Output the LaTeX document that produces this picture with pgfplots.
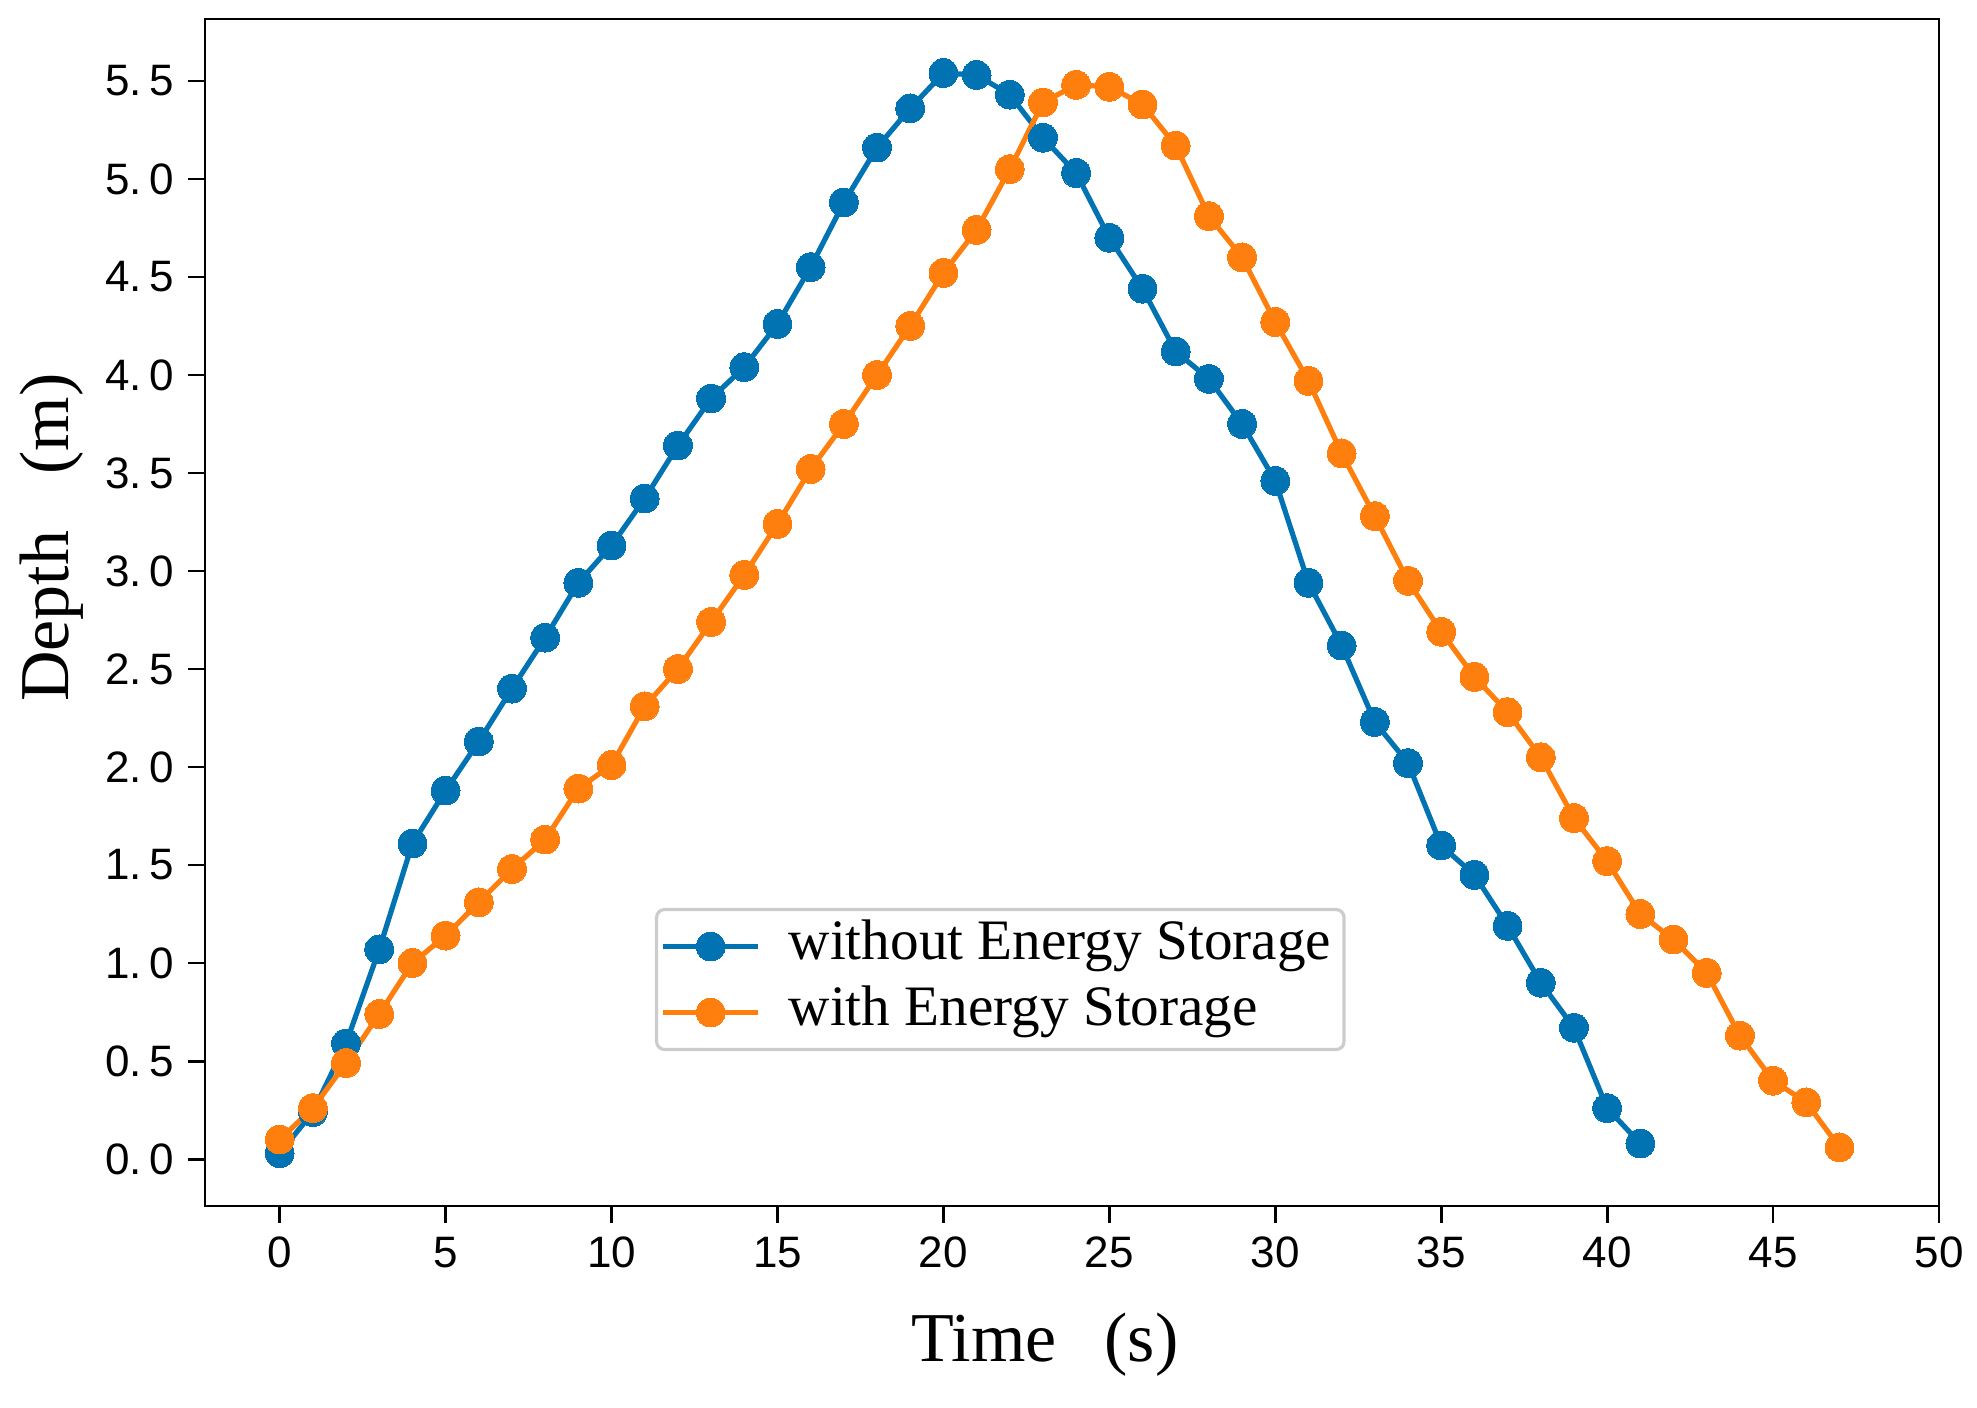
\documentclass[border=0pt]{standalone}
\usepackage{pgfplots}
\pgfplotsset{compat=1.18}
\usepackage{pgfplotstable}
\usepackage{fontspec}
\setmainfont{Liberation Serif}
\newfontfamily\ticksf{Liberation Sans}
\definecolor{cblue}{RGB}{1,115,178}
\definecolor{corange}{RGB}{255,127,14}
\definecolor{lgray}{RGB}{204,204,204}

\pgfplotstableread{
x y
0 0.03
1 0.24
2 0.59
3 1.07
4 1.61
5 1.88
6 2.13
7 2.40
8 2.66
9 2.94
10 3.13
11 3.37
12 3.64
13 3.88
14 4.04
15 4.26
16 4.55
17 4.88
18 5.16
19 5.36
20 5.54
21 5.53
22 5.43
23 5.21
24 5.03
25 4.70
26 4.44
27 4.12
28 3.98
29 3.75
30 3.46
31 2.94
32 2.62
33 2.23
34 2.02
35 1.60
36 1.45
37 1.19
38 0.90
39 0.67
40 0.26
41 0.08
}\without

\pgfplotstableread{
x y
0 0.10
1 0.26
2 0.49
3 0.74
4 1.00
5 1.14
6 1.31
7 1.48
8 1.63
9 1.89
10 2.01
11 2.31
12 2.50
13 2.74
14 2.98
15 3.24
16 3.52
17 3.75
18 4.00
19 4.25
20 4.52
21 4.74
22 5.05
23 5.39
24 5.48
25 5.47
26 5.38
27 5.17
28 4.81
29 4.60
30 4.27
31 3.97
32 3.60
33 3.28
34 2.95
35 2.69
36 2.46
37 2.28
38 2.05
39 1.74
40 1.52
41 1.25
42 1.12
43 0.95
44 0.63
45 0.40
46 0.29
47 0.06
}\withES

\begin{document}
\begin{tikzpicture}
\begin{axis}[
  scale only axis,
  width=433.5pt, height=296.75pt,
  xmin=-2.25, xmax=50, ymin=-0.239, ymax=5.816,
  axis line style={line width=0.7pt, black},
  tick align=outside,
  major tick length=4.25pt,
  tick style={black, line width=0.7pt},
  xtick={0,5,10,15,20,25,30,35,40,45,50},
  xticklabels={0,5,10,15,20,25,30,35,40,45,50},
  ytick={0,0.5,1,1.5,2,2.5,3,3.5,4,4.5,5,5.5},
  yticklabels={0.\,0,0.\,5,1.\,0,1.\,5,2.\,0,2.\,5,3.\,0,3.\,5,4.\,0,4.\,5,5.\,0,5.\,5},
  ticklabel style={font=\ticksf\fontsize{11}{11}\selectfont},
  xtick pos=bottom, ytick pos=left,
  xlabel={Time\hspace{12pt}(s)},
  xlabel style={font=\fontsize{17.5}{17.5}\selectfont, at={(axis description cs:0.4844,-0.1314)}, anchor=base},
  ylabel={Depth\hspace{14pt}(m)},
  ylabel style={font=\fontsize{17.5}{17.5}\selectfont, at={(axis description cs:-0.0882,0.563)}, anchor=center},
  legend cell align=left,
  legend image code/.code={\draw[mark repeat=2,mark phase=2] plot coordinates {(0pt,0pt)(11.875pt,0pt)(23.75pt,0pt)};},
  legend style={at={(0.2595,0.2511)}, anchor=north west, draw=lgray, line width=0.8pt,
    rounded corners=2pt, fill=white, font=\fontsize{14.3}{14.3}\selectfont,
    inner xsep=1pt, inner ysep=1pt,
    nodes={inner xsep=2.25pt, inner ysep=1.95pt, text height=9.6pt, text depth=3pt},
    /tikz/every odd column/.append style={column sep=4.75pt},
    /tikz/every even column/.append style={column sep=0pt}},
]
\addplot[color=cblue, line width=1.3pt, mark=*, mark size=3.6pt,
  mark options={solid, fill=cblue, draw=cblue, line width=0pt}] table[x=x,y=y] {\without};
\addlegendentry{without Energy Storage}
\addplot[color=corange, line width=1.3pt, mark=*, mark size=3.6pt,
  mark options={solid, fill=corange, draw=corange, line width=0pt}] table[x=x,y=y] {\withES};
\addlegendentry{with Energy Storage}
\end{axis}
\pgfresetboundingbox
\path[use as bounding box] (-51.25pt,-50.5pt) rectangle (443pt,301.5pt);
\end{tikzpicture}
\end{document}
